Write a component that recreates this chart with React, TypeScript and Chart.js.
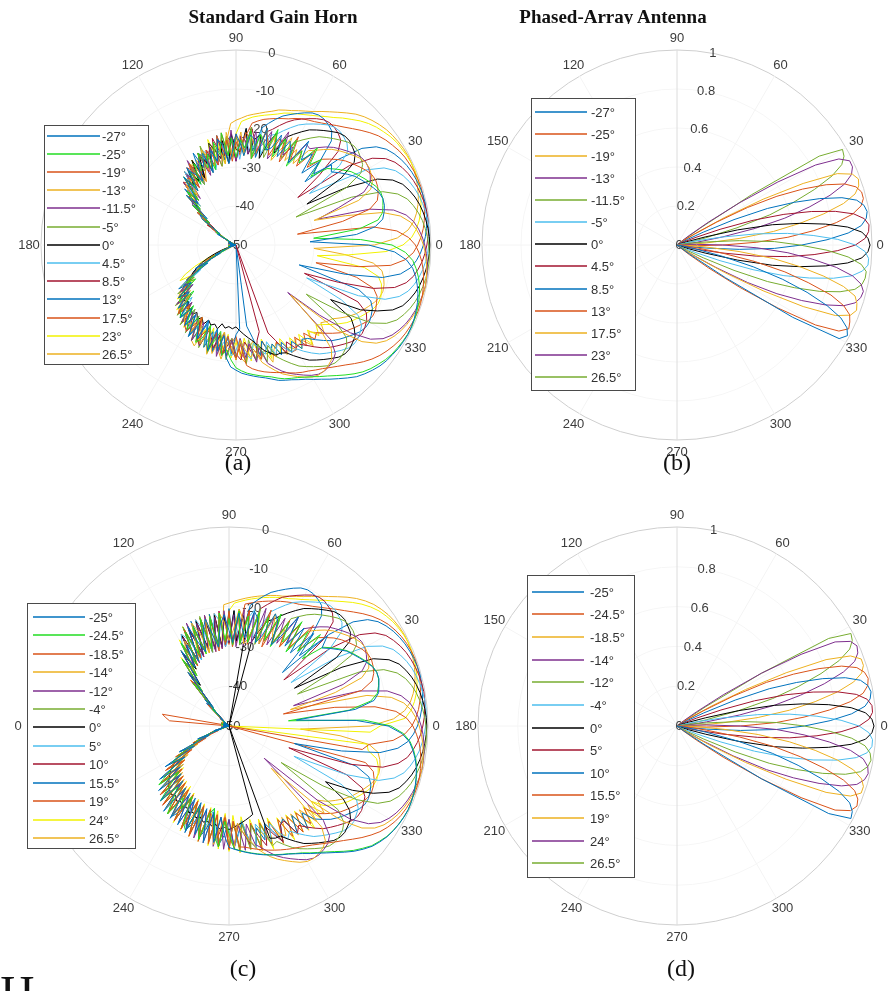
import React, { useEffect, useRef } from "react";
import { Chart, registerables } from "chart.js";
Chart.register(...registerables);

// ---------------------------------------------------------------------------
// Shared tick labels
// ---------------------------------------------------------------------------
const ANGLE_TICKS = [0, 30, 60, 90, 120, 150, 180, 210, 240, 270, 300, 330];
const DB_TICKS = [0, -10, -20, -30, -40, -50];
const LIN_TICKS = [1, 0.8, 0.6, 0.4, 0.2, 0];

// ---------------------------------------------------------------------------
// (a) Standard Gain Horn – dB, one value every 2.5° from 0° to 357.5°
// ---------------------------------------------------------------------------
const A_STEP = 2.5;
const A_NAMES = ["-27°", "-25°", "-19°", "-13°", "-11.5°", "-5°", "0°", "4.5°", "8.5°", "13°", "17.5°", "23°", "26.5°"];
const A_COLORS = ["#0072BD", "#22DD22", "#D95319", "#EDB120", "#7E2F8E", "#77AC30", "#000000", "#4DBEEE", "#A2142F", "#0072BD", "#D95319", "#F2F200", "#EDB120"];
const A_M27 = [-16,-31,-19,-14,-11.8,-11.1,-10.6,-10.5,-10.9,-11.8,-12.8,-13.8,-14.8,-16.2,-17.7,-19.2,-18,-23,-20,-25,-19.5,-22.5,-17.5,-25,
  -22,-20,-25,-19.5,-23.5,-24.5,-19,-27,-22.5,-21.5,-27,-24,-21.5,-26.5,-29,-24,-22.5,-28,-25,-30.5,-25,-28.5,-24,-31.5,
  -29,-27.5,-33,-28,-33,-35.5,-32,-40,-38,-39,-45,-45,-44.5,-48.5,-48,-49,-48.5,-49.5,-48,-49,-50,-48.5,-49.5,-49,
  -49.5,-48.5,-49,-50,-48.5,-49,-48,-49.5,-48,-47,-44,-45.5,-38,-41.5,-35.5,-31.5,-35,-30,-33,-28,-31,-26.5,-30,-25.5,
  -29,-23.5,-27,-24,-29.5,-24.5,-22,-28,-22.5,-26.5,-21,-18.7,-17.9,-17.1,-16.6,-16.1,-15.6,-15.1,-14.4,-13.6,-13.1,-12.6,-11.9,-11.2,
  -10.2,-9.2,-8,-6.8,-5.5,-4.2,-3.3,-2.5,-1.8,-1.3,-1,-0.65,-0.45,-0.3,-0.4,-0.55,-0.85,-1.2,-1.7,-2.4,-3.2,-4.3,-6.1,-9.3];
const A_M25 = [-10,-18,-30,-18,-13,-11.5,-11,-10.5,-10.5,-11,-12,-13,-14,-15,-16.5,-18,-19.5,-24,-19,-22,-17.5,-23.5,-20.5,-26,
  -19,-23,-20,-25.5,-18.5,-24.5,-23,-21,-27.5,-20.5,-25,-23,-27.5,-22.5,-27,-21,-26.5,-23,-30,-25.5,-29,-24.5,-29,-26.5,
  -32,-27.5,-32,-28,-35,-31.5,-37,-35,-41,-40,-45,-44,-48,-47.5,-49,-48,-49.5,-48.5,-50,-49,-48.5,-49.5,-49,-50,
  -48.5,-49.5,-49,-48,-49.5,-48.5,-49,-48,-48.5,-46,-47,-43,-41.5,-39,-37,-34,-36.5,-31,-29.5,-34,-28,-26.5,-31,-27,
  -25,-29,-27,-23,-24.5,-28.5,-22,-25,-27.5,-21.5,-23,-20.5,-18.5,-17.7,-17,-16.5,-16,-15.5,-15,-14.2,-13.5,-13,-12.5,-11.8,
  -11,-10,-9,-7.8,-6.5,-5.2,-4,-3.1,-2.4,-1.7,-1.2,-0.9,-0.6,-0.4,-0.3,-0.4,-0.6,-0.9,-1.3,-1.8,-2.5,-3.4,-4.5,-6.5];
const A_M19 = [-4,-5.7,-8.6,-14.5,-34,-22,-14.5,-12,-11.2,-10.7,-10.5,-10.8,-11.6,-12.6,-13.6,-14.6,-15.9,-17.4,-18.9,-23,-18.5,-24.5,-20.5,-24,
  -18,-26,-21,-20.5,-25.5,-22.5,-20,-25,-27.5,-22.5,-21,-26,-23.5,-28.5,-23,-26,-21.5,-29,-26,-24.5,-30,-24.5,-29,-30.5,
  -26,-32.5,-29,-29,-35,-32.5,-33,-39,-37,-42,-42,-46,-45.5,-48.5,-48,-49.5,-49,-48,-49.5,-50,-48.5,-49,-50,-48.5,
  -49,-50,-48.5,-49,-48,-49.5,-48.5,-49,-47.5,-48,-44,-42,-40,-38.5,-36,-35,-33.5,-30,-32,-29.5,-27,-30.5,-28,-25.5,
  -24.5,-27,-29.5,-23.5,-26,-28,-22.5,-27,-24,-21.5,-26.5,-23,-21,-24.5,-19,-18,-17.3,-16.7,-16.2,-15.7,-15.2,-14.5,-13.8,-13.2,
  -12.7,-12,-11.3,-10.4,-9.4,-8.3,-7,-5.7,-4.5,-3.5,-2.7,-2,-1.4,-1,-0.7,-0.45,-0.32,-0.35,-0.5,-0.8,-1.15,-1.6,-2.2,-3];
const A_M13 = [-1.95,-2.65,-3.6,-4.9,-7.2,-11.5,-21,-29,-16.5,-12.6,-11.4,-10.9,-10.5,-10.6,-11.2,-12.2,-13.2,-14.2,-15.3,-16.8,-18.3,-19.5,-24.5,-21,
  -25,-19,-23,-26.5,-20.5,-23.5,-19,-26,-23.5,-21.5,-27,-21,-25.5,-26.5,-21,-29,-24.5,-24,-29,-26.5,-24,-29.5,-32,-27.5,
  -26,-31.5,-29,-34,-30,-34.5,-32,-39,-39,-39,-44,-44,-47.5,-47,-49,-48.5,-49.5,-48,-49,-49.5,-48.5,-50,-48.5,-49.5,
  -49,-48,-49.5,-48.5,-50,-48.5,-49,-47.5,-49,-46.5,-45,-43,-40,-39,-36,-34.5,-36,-31,-29.5,-32.5,-28,-30,-27,-25.5,
  -27,-25,-29.5,-26,-23,-27.5,-24.5,-21.5,-25,-27.5,-22.5,-24,-20.5,-25.5,-23,-21,-22.5,-19.2,-17.7,-16.2,-14.8,-13.8,-12.8,-11.8,
  -10.9,-10.5,-10.6,-11.1,-11.8,-13.8,-19.5,-31,-16,-9.3,-6.1,-4.3,-3.2,-2.35,-1.7,-1.2,-0.85,-0.55,-0.38,-0.3,-0.42,-0.65,-0.98,-1.4];
const A_M11_5 = [-1.6,-2.2,-3,-4.05,-5.7,-8.6,-14.5,-28,-22,-14.5,-12,-11.2,-10.7,-10.5,-10.8,-11.6,-12.6,-13.6,-14.6,-15.9,-17.4,-18.9,-18.5,-25,
  -21,-24,-18,-23.5,-26.5,-19.5,-23,-25,-20.5,-26.5,-23,-22,-28.5,-20.5,-27,-26,-22.5,-29,-24,-26.5,-31,-25.5,-27,-31.5,
  -25,-30.5,-28,-35,-29,-35.5,-34,-35,-41,-40,-44,-44,-47.5,-48,-49.5,-48.5,-49,-50,-48.5,-49,-49.5,-48,-49,-50,
  -48.5,-49,-50,-49,-48.5,-49.5,-48,-49,-48.5,-47,-44.5,-44,-39.5,-39,-35,-34,-31.5,-35,-28.5,-33,-27.5,-31.5,-26,-29.5,
  -24.5,-29,-23,-28.5,-22.5,-28,-23,-26.5,-21,-27,-21.5,-25.5,-20.5,-26,-21,-24.5,-19.5,-23,-18.6,-17.1,-15.6,-14.4,-13.4,-12.4,
  -11.4,-10.7,-10.5,-10.8,-11.3,-12.3,-15.5,-32,-22,-13,-7.9,-5.3,-3.8,-2.85,-2.05,-1.5,-1.05,-0.7,-0.46,-0.32,-0.35,-0.5,-0.78,-1.15];
const A_M5 = [-0.6,-0.9,-1.3,-1.8,-2.5,-3.4,-4.5,-6.5,-10,-18,-33,-18,-13,-11.5,-11,-10.5,-10.5,-11,-12,-13,-14,-15,-16.5,-18,
  -19.5,-25,-20,-23.5,-19.5,-26.5,-22,-21,-26.5,-19.5,-26,-24,-22.5,-27.5,-22,-26,-29.5,-24,-25,-29.5,-23,-29.5,-27,-32.5,
  -27,-28.5,-33,-28,-34,-31.5,-37,-36,-40,-39,-44,-45,-46.5,-48.5,-48,-49,-50,-48.5,-49.5,-48,-49,-50,-49,-48.5,
  -49.5,-48.5,-49,-50,-48,-49,-49.5,-48,-47.5,-48.5,-44,-45.5,-39,-41,-34.5,-36.5,-30.5,-34.5,-28,-32,-26.5,-31,-25,-30.5,
  -24,-29.5,-23,-27.5,-22,-28,-21.5,-26,-22.5,-27.5,-20.5,-26,-21,-25,-19.5,-25.5,-20,-24,-19,-23,-19.5,-18,-16.5,-15,
  -14,-13,-12,-11,-10.5,-10.5,-11,-11.5,-13,-18,-28,-18,-10,-6.5,-4.5,-3.4,-2.5,-1.8,-1.3,-0.9,-0.6,-0.4,-0.3,-0.4];
const A_0 = [-0.3,-0.4,-0.6,-0.9,-1.3,-1.8,-2.5,-3.4,-4.5,-6.5,-10,-18,-29,-18,-13,-11.5,-11,-10.5,-10.5,-11,-12,-13,-14,-15,
  -16.5,-18,-19.5,-24.5,-19.5,-22.5,-27,-21,-22.5,-26.5,-20,-26,-25.5,-21.5,-29,-23,-27.5,-25,-23,-29.5,-27,-25.5,-31,-25.5,
  -31,-27.5,-31,-29,-35,-31.5,-36,-36,-41,-40,-44,-44,-47,-48,-49,-48.5,-49.5,-48,-49,-50,-48.5,-49,-49.5,-48.5,
  -49,-48.5,-50,-49,-48,-49.5,-48.5,-47.5,-46,-44,-42,-40,-38.5,-37,-36,-35,-33.5,-32,-31.5,-30.5,-31,-29.5,-30,-29,
  -30,-28.5,-29.5,-28,-29.5,-28.5,-29,-28,-29.5,-28.5,-29,-28.5,-29,-28,-27,-26,-25,-23.5,-22,-21,-20,-20,-19.5,-18,
  -16.5,-15,-14,-13,-12,-11,-10.5,-10.5,-11,-11.5,-13,-15,-22,-14,-10,-6.5,-4.5,-3.4,-2.5,-1.8,-1.3,-0.9,-0.6,-0.4];
const A_4_5 = [-0.55,-0.38,-0.3,-0.42,-0.65,-0.98,-1.4,-1.95,-2.65,-3.6,-4.9,-7.2,-11.5,-21,-27,-16.5,-12.6,-11.4,-10.9,-10.5,-10.6,-11.2,-12.2,-13.2,
  -14.2,-15.3,-16.8,-18.3,-19.8,-20.5,-26,-20,-24.5,-25.5,-20,-28,-23.5,-22.5,-28,-25,-22.5,-28,-30,-25.5,-24,-29.5,-27,-32.5,
  -27,-30.5,-27,-33,-31,-36.5,-32,-39,-37,-42,-42,-46,-46,-48,-48.5,-49.5,-48,-49,-50,-48.5,-49.5,-49,-48,-49.5,
  -50,-49,-48.5,-49.5,-48,-49,-50,-48.5,-48,-47.5,-45,-44,-41,-38,-39,-34,-32,-35,-30,-29,-32.5,-28,-26.5,-30,
  -26,-28.5,-24,-25,-29,-23.5,-26,-27.5,-22,-24.5,-26.5,-21.5,-23,-26,-22,-20.5,-24.5,-23,-21,-24,-20,-22.5,-21,-19,
  -19.3,-17.7,-16.2,-14.8,-13.8,-12.8,-11.8,-10.9,-10.5,-10.6,-11.1,-11.8,-13.8,-19.5,-30,-16,-9.3,-6.1,-4.3,-3.2,-2.35,-1.7,-1.2,-0.85];
const A_8_5 = [-1.05,-0.7,-0.46,-0.32,-0.35,-0.5,-0.78,-1.15,-1.6,-2.2,-3,-4.05,-5.7,-8.6,-14.5,-30,-22,-14.5,-12,-11.2,-10.7,-10.5,-10.8,-11.6,
  -12.6,-13.6,-14.6,-15.9,-17.4,-18.9,-20,-26,-22.5,-19.5,-26,-22,-28.5,-23.5,-22,-27,-25.5,-22,-29,-24.5,-28,-24.5,-32,-27.5,
  -27,-32.5,-27,-32,-30,-35.5,-33,-38,-38,-43,-41,-46,-45.5,-48.5,-48,-49,-49.5,-48,-48.5,-49.5,-50,-48.5,-49,-49.5,
  -48.5,-49.5,-49,-48,-49.5,-50,-48.5,-49,-47,-48,-45,-43,-40.5,-39.5,-35.5,-35,-31.5,-33.5,-29,-32,-27,-30,-25.5,-29.5,
  -27,-25,-28.5,-24,-22.5,-27,-25.5,-23,-26.5,-21.5,-24,-26,-22,-20.5,-25,-23,-20,-25,-27,-50,-26,-23.5,-19.5,-22,
  -19.5,-19.8,-18.6,-17.1,-15.6,-14.4,-13.4,-12.4,-11.4,-10.7,-10.5,-10.8,-11.3,-12.3,-15.5,-31,-22,-13,-7.9,-5.3,-3.8,-2.85,-2.05,-1.5];
const A_13 = [-1.95,-1.4,-0.98,-0.65,-0.42,-0.3,-0.38,-0.55,-0.85,-1.2,-1.7,-2.35,-3.2,-4.3,-6.1,-9.3,-16,-26,-19.5,-13.8,-11.8,-11.1,-10.6,-10.5,
  -10.9,-11.8,-12.8,-13.8,-14.8,-16.2,-17.7,-19.2,-25.5,-20.5,-25,-23,-28.5,-21.5,-24,-28,-21.5,-28,-24,-30.5,-26,-24.5,-30,-26.5,
  -32,-26.5,-31,-30,-34,-30.5,-37,-35,-41,-39,-45,-44,-47.5,-47,-49,-48,-49,-49.5,-48.5,-50,-49,-48,-49.5,-49,
  -48,-49.5,-48.5,-49,-50,-48.5,-49,-48,-48.5,-46.5,-46,-42,-42.5,-37,-38.5,-33,-35,-30,-33,-28.5,-31,-26.5,-30.5,-25.5,
  -29.5,-24,-28,-23.5,-28.5,-22.5,-27,-22,-26.5,-21.5,-26,-22,-27,-28.5,-50,-29,-26,-21,-24.5,-20.5,-23,-19.5,-22.5,-19,
  -21.5,-18.5,-20.5,-19.8,-18.3,-16.8,-15.3,-14.2,-13.2,-12.2,-11.2,-10.6,-10.5,-10.9,-11.4,-12.6,-16.5,-33,-21,-11.5,-7.2,-4.9,-3.6,-2.65];
const A_17_5 = [-3.4,-2.5,-1.8,-1.3,-0.9,-0.6,-0.4,-0.3,-0.4,-0.6,-0.9,-1.2,-1.7,-2.4,-3.1,-4,-5.2,-6.5,-7.8,-9,-10,-11,-11.8,-12.5,
  -13,-13.5,-14.2,-15,-15.5,-16,-16.5,-17,-17.7,-18.5,-22,-27,-21.5,-25.5,-27,-21,-29.5,-25,-24,-29.5,-27,-24.5,-30,-32.5,
  -28,-26.5,-32,-30,-29,-35.5,-34,-39,-37,-43,-42,-44,-47,-48.5,-48,-49.5,-48.5,-49,-50,-48,-49,-49.5,-48.5,-50,
  -49,-48,-49.5,-48.5,-49,-50,-48,-49,-48.5,-47,-44.5,-45,-39,-40,-34.5,-36,-31,-34.5,-29.5,-32.5,-27.5,-31,-26,-30,
  -27,-25.5,-29,-24,-23,-27.5,-25,-22,-27,-23.5,-21.5,-25,-26.5,-22,-20.5,-24,-22.5,-20,-24.5,-21,-19.5,-23,-21,-19,
  -19,-22,-18.5,-21.5,-18.5,-19.5,-18,-16.5,-15,-14,-13,-12,-11,-10.5,-10.5,-11,-11.5,-13,-18,-29,-18,-10,-6.5,-4.5];
const A_23 = [-7.2,-4.9,-3.6,-2.65,-1.95,-1.4,-0.98,-0.65,-0.42,-0.3,-0.38,-0.55,-0.85,-1.1,-1.6,-2.3,-3,-3.9,-5,-6.3,-7.5,-8.8,-9.8,-10.8,
  -11.6,-12.3,-12.9,-13.4,-14,-14.8,-15.4,-15.9,-16.4,-16.9,-17.6,-18.3,-21.5,-27.5,-24,-29,-23.5,-27,-22,-29.5,-27,-25.5,-31,-25.5,
  -30,-31.5,-27,-34,-31,-31.5,-37,-35,-40,-40,-44,-44,-46.5,-48,-49.5,-48,-49,-50,-48.5,-49.5,-49,-48,-50,-49,
  -48.5,-49.5,-49,-48,-49.5,-48.5,-49,-48,-47,-45,-42,-38,-35,-33,-37,-32,-34.5,-29.5,-32,-27.5,-31,-26.5,-29.5,-25,
  -28.5,-24,-29,-23,-27,-22.5,-28,-22,-26,-22.5,-27,-21,-25,-21.5,-26,-20,-24.5,-21,-25,-19.5,-23,-20,-23.5,-19,
  -22.5,-18.5,-22,-18,-21.5,-18.5,-21,-19.8,-18.3,-16.8,-15.3,-14.2,-13.2,-12.2,-11.2,-10.6,-10.5,-10.9,-11.4,-12.6,-16.5,-29,-21,-11.5];
const A_26_5 = [-14.5,-8.6,-5.7,-4.05,-3,-2.2,-1.6,-1.15,-0.78,-0.5,-0.35,-0.32,-0.45,-0.7,-1,-1.4,-2,-2.7,-3.5,-4.5,-5.8,-7.1,-8.3,-9.4,
  -10.5,-11.3,-12,-12.7,-13.2,-13.7,-14.5,-15.1,-15.7,-16.2,-16.7,-17.4,-18,-18.8,-23,-28,-22.5,-28,-25,-30.5,-24,-28.5,-26,-31.5,
  -26,-30.5,-28,-33,-29,-36.5,-33,-38,-37,-42,-41,-45,-46,-48,-48.5,-49.5,-48,-49,-49.5,-48.5,-50,-49,-48.5,-49.5,
  -49,-48.5,-50,-49,-48.5,-49.5,-48,-49,-47.5,-46,-44,-41,-40.5,-37,-35,-36.5,-31.5,-30,-33.5,-28.5,-27,-31,-28,-25.5,
  -25,-27.5,-23,-22,-26.5,-24.5,-21,-27,-23,-20.5,-25,-22.5,-26,-21,-19.5,-23.5,-25,-20,-22,-18.5,-21.5,-23,-19,-20.5,
  -19,-21.5,-20,-17.5,-21,-19.5,-18,-20.5,-19.5,-18.9,-17.4,-15.9,-14.6,-13.6,-12.6,-11.6,-10.8,-10.5,-10.7,-11.2,-12,-14.5,-22,-30];
const A_SERIES = [A_M27, A_M25, A_M19, A_M13, A_M11_5, A_M5, A_0, A_4_5, A_8_5, A_13, A_17_5, A_23, A_26_5];

// ---------------------------------------------------------------------------
// (b) Phased-Array Antenna – linear, main lobes sampled every 2°
// ---------------------------------------------------------------------------
const B_STEP = 2;
const B_NAMES = ["-27°", "-25°", "-19°", "-13°", "-11.5°", "-5°", "0°", "4.5°", "8.5°", "13°", "17.5°", "23°", "26.5°"];
const B_COLORS = ["#0072BD", "#D95319", "#EDB120", "#7E2F8E", "#77AC30", "#4DBEEE", "#000000", "#A2142F", "#0072BD", "#D95319", "#EDB120", "#7E2F8E", "#77AC30"];
const B_START = [-38, -40, -36, -36, -32, -26, -22, -16, -12, -6, -2, 4, 8];
const B_LOBES = [
  [0.01, 0.08, 0.3, 0.7, 0.96, 0.99, 0.97, 0.92, 0.83, 0.71, 0.57, 0.41, 0.24, 0.1, 0.04, 0.015],
  [0.02, 0.08, 0.2, 0.39, 0.61, 0.82, 0.94, 0.98, 0.97, 0.955, 0.91, 0.83, 0.7, 0.57, 0.41, 0.23, 0.1, 0.04, 0.015],
  [0.01, 0.04, 0.12, 0.28, 0.5, 0.72, 0.89, 0.96, 0.98, 0.97, 0.95, 0.88, 0.77, 0.64, 0.5, 0.32, 0.15, 0.06, 0.02, 0.01],
  [0.015, 0.04, 0.1, 0.23, 0.41, 0.57, 0.7, 0.82, 0.91, 0.96, 0.98, 0.985, 0.965, 0.915, 0.825, 0.7, 0.57, 0.41, 0.235, 0.1, 0.04, 0.015],
  [0.01, 0.02, 0.06, 0.15, 0.32, 0.5, 0.64, 0.77, 0.87, 0.94, 0.97, 0.98, 0.98, 0.95, 0.88, 0.77, 0.63, 0.5, 0.32, 0.15, 0.06, 0.02, 0.01],
  [0.015, 0.04, 0.105, 0.235, 0.41, 0.57, 0.7, 0.82, 0.91, 0.96, 0.985, 0.985, 0.965, 0.915, 0.825, 0.7, 0.57, 0.41, 0.235, 0.105, 0.04, 0.015],
  [0.01, 0.02, 0.06, 0.15, 0.32, 0.5, 0.64, 0.77, 0.88, 0.95, 0.98, 0.99, 0.98, 0.95, 0.88, 0.77, 0.64, 0.5, 0.32, 0.15, 0.06, 0.02, 0.01],
  [0.015, 0.04, 0.105, 0.235, 0.41, 0.57, 0.705, 0.825, 0.915, 0.965, 0.985, 0.99, 0.97, 0.92, 0.83, 0.71, 0.57, 0.41, 0.235, 0.105, 0.04, 0.015],
  [0.01, 0.02, 0.06, 0.15, 0.32, 0.5, 0.64, 0.77, 0.88, 0.95, 0.98, 0.99, 0.98, 0.95, 0.88, 0.77, 0.64, 0.5, 0.32, 0.15, 0.06, 0.02, 0.01],
  [0.015, 0.04, 0.105, 0.235, 0.41, 0.57, 0.705, 0.825, 0.915, 0.965, 0.985, 0.985, 0.965, 0.915, 0.825, 0.705, 0.57, 0.41, 0.235, 0.105, 0.04, 0.015],
  [0.01, 0.02, 0.06, 0.15, 0.32, 0.5, 0.64, 0.77, 0.88, 0.95, 0.98, 0.99, 0.97, 0.9, 0.72, 0.5, 0.28, 0.12, 0.04, 0.01],
  [0.015, 0.04, 0.105, 0.235, 0.41, 0.57, 0.705, 0.825, 0.915, 0.965, 0.985, 0.985, 0.94, 0.82, 0.61, 0.39, 0.2, 0.08, 0.02],
  [0.01, 0.02, 0.06, 0.15, 0.32, 0.5, 0.63, 0.76, 0.87, 0.94, 0.97, 0.98, 0.86, 0.46, 0.15, 0.03],
];

// ---------------------------------------------------------------------------
// (c) Standard Gain Horn, second set – dB, every 2.5° from 0° to 357.5°
// ---------------------------------------------------------------------------
const C_STEP = 2.5;
const C_NAMES = ["-25°", "-24.5°", "-18.5°", "-14°", "-12°", "-4°", "0°", "5°", "10°", "15.5°", "19°", "24°", "26.5°"];
const C_COLORS = ["#0072BD", "#22DD22", "#D95319", "#EDB120", "#7E2F8E", "#77AC30", "#000000", "#4DBEEE", "#A2142F", "#0072BD", "#D95319", "#F2F200", "#EDB120"];
const C_M25 = [-10,-18,-33,-18,-13,-11.5,-11,-10.5,-10.5,-11,-12,-13,-14,-15,-16.5,-18,-19.5,-16.5,-25,-18.5,-26,-19,-25.5,-17.5,
  -24,-27,-21,-19.5,-26,-28,-22,-20.5,-27.5,-25,-21.5,-29,-26,-22,-24.5,-30,-27,-22.5,-25,-30.5,-28,-23,-32,-27,
  -33,-27.5,-37,-33,-44,-41,-48,-47,-49.5,-48.5,-50,-49,-48.5,-49.5,-49,-50,-48.5,-49,-49.5,-48.5,-50,-49,-48.5,-49.5,
  -49,-50,-48.5,-49.5,-49,-48,-49.5,-46,-48,-41.5,-44.5,-36,-40,-31,-36.5,-28,-34,-26,-33,-24.5,-32,-23,-31,-22.5,
  -30.5,-22,-30,-21,-29.5,-21.5,-28.5,-20,-28,-20.5,-27,-22.5,-19.5,-19,-18.5,-18,-17.5,-17,-16.5,-16,-15.5,-15,-14.5,-13.8,
  -13,-12,-11,-9.8,-8.5,-7,-5.5,-4.2,-3,-2.2,-1.5,-1.05,-0.7,-0.45,-0.3,-0.4,-0.6,-0.9,-1.3,-1.8,-2.5,-3.4,-4.5,-6.5];
const C_M24_5 = [-9.3,-16,-35,-19.5,-13.8,-11.8,-11.1,-10.6,-10.5,-10.9,-11.8,-12.8,-13.8,-14.8,-16.2,-17.7,-19.2,-25,-17.5,-24.5,-19,-26.5,-18,-25,
  -20,-27.5,-19,-26.5,-21,-28,-20.5,-28.5,-22,-29,-21,-29.5,-23,-28.5,-21.5,-30,-22.5,-30,-22,-31,-23.5,-30.5,-24,-32.5,
  -26,-35,-29.5,-39,-36,-45,-44,-49,-48,-50,-48.5,-49.5,-49,-48.5,-50,-49,-48.5,-49.5,-48,-49,-50,-48.5,-49.5,-49,
  -48.5,-49.5,-49,-50,-48.5,-49,-48,-49.5,-46,-43,-41,-40,-36,-33,-35.5,-31,-27,-33,-29,-24.5,-30,-27,-23,-28.5,
  -26,-30,-23,-21.5,-28,-25,-20.5,-27.5,-29,-22,-19.5,-26,-23,-19.1,-18.6,-18.1,-17.6,-17.1,-16.6,-16.1,-15.6,-15.1,-14.6,-13.9,
  -13.2,-12.2,-11.2,-10.1,-8.8,-7.3,-5.8,-4.5,-3.2,-2.4,-1.6,-1.1,-0.75,-0.48,-0.3,-0.38,-0.55,-0.85,-1.2,-1.7,-2.35,-3.2,-4.3,-6.1];
const C_M18_5 = [-3.8,-5.3,-7.9,-13,-23,-36,-15.5,-12.3,-11.3,-10.8,-10.5,-10.7,-11.4,-12.4,-13.4,-14.4,-15.6,-17.1,-18.6,-24,-17,-25.5,-19,-26.5,
  -19.5,-27,-20.5,-28.5,-19,-27.5,-21.5,-29,-20.5,-28,-22.5,-30,-21,-29.5,-22,-31,-23,-29.5,-22,-30.5,-24,-31.5,-23.5,-33,
  -27,-34.5,-30,-38,-35,-43,-42.5,-48,-47,-49.5,-49,-48.5,-50,-49,-48.5,-49.5,-49,-48,-49.5,-50,-48.5,-49,-49.5,-48.5,
  -49.5,-48.5,-50,-49,-48,-49.5,-49,-48.5,-46,-47,-40.5,-43.5,-35,-39,-31,-36,-28,-34,-26,-33,-24.5,-32,-23.5,-31,
  -22.5,-30.5,-21.5,-29.5,-21,-29,-20,-28.5,-20.5,-27.5,-19.5,-27,-19,-26,-19.5,-19.3,-18.8,-18.3,-17.8,-17.3,-16.8,-16.3,-15.8,-15.3,
  -14.8,-14.2,-13.5,-12.6,-11.6,-10.5,-9.3,-7.9,-6.4,-5,-3.7,-2.7,-1.9,-1.3,-0.9,-0.6,-0.36,-0.32,-0.46,-0.7,-1.05,-1.5,-2.05,-2.85];
const C_M14 = [-2.2,-3,-4.05,-5.7,-8.6,-14.5,-34,-22,-14.5,-12,-11.2,-10.7,-10.5,-10.8,-11.6,-12.6,-13.6,-14.6,-15.9,-17.4,-18.9,-25,-18.5,-26,
  -22,-26.5,-24,-19.5,-28,-25,-21,-27.5,-29,-23,-20.5,-26,-28.5,-24,-21.5,-30,-27,-23,-31,-25.5,-22.5,-29,-32,-26,
  -28,-33.5,-31.5,-37.5,-36.5,-44,-43,-48.5,-47.5,-49,-50,-48.5,-49,-49.5,-48,-50,-49,-48.5,-49.5,-49,-48,-50,-48.5,-49,
  -50,-49,-48.5,-49.5,-49,-48,-50,-47,-47.5,-42,-45,-37,-41,-32.5,-37.5,-29,-35,-27,-33.5,-25.5,-32.5,-24,-31.5,-23,
  -27,-30.5,-22,-25,-29,-24,-21,-28.5,-26,-20,-24,-27.5,-22,-19.5,-25.5,-23,-21,-18.6,-17.1,-15.6,-14.4,-13.4,-12.4,-11.4,
  -10.7,-10.5,-10.8,-11.3,-12.3,-15.5,-35,-22,-13,-7.9,-5.3,-3.8,-2.85,-2.05,-1.5,-1.05,-0.7,-0.46,-0.32,-0.35,-0.5,-0.78,-1.15,-1.6];
const C_M12 = [-1.7,-2.35,-3.2,-4.3,-6.1,-9.3,-16,-33,-19.5,-13.8,-11.8,-11.1,-10.6,-10.5,-10.9,-11.8,-12.8,-13.8,-14.8,-16.2,-17.7,-19.2,-24.5,-17.5,
  -26,-19.5,-27.5,-20.5,-28,-19,-28.5,-21,-29.5,-20.5,-30,-22,-29,-21,-30.5,-22.5,-31,-21.5,-30,-23,-31.5,-22,-32.5,-25,
  -32,-28,-36,-33.5,-42,-41.5,-47,-46.5,-49,-48.5,-49.5,-50,-48.5,-49,-50,-48.5,-49.5,-49,-48,-49.5,-50,-49,-48.5,-49.5,
  -48.5,-49.5,-50,-48.5,-49,-49.5,-48,-49,-46.5,-45.5,-42,-39.5,-37,-34,-34.5,-30,-33,-27.5,-32,-25.5,-31,-24.5,-30,-23.5,
  -29.5,-22.5,-29,-21.5,-28.5,-20.5,-28,-20,-27.5,-19.5,-27,-19,-26.5,-19,-25.5,-18.5,-25,-19.5,-18.3,-16.8,-15.3,-14.2,-13.2,-12.2,
  -11.2,-10.6,-10.5,-10.9,-11.4,-12.6,-16.5,-38,-21,-11.5,-7.2,-4.9,-3.6,-2.65,-1.95,-1.4,-0.98,-0.65,-0.42,-0.3,-0.38,-0.55,-0.85,-1.2];
const C_M4 = [-0.5,-0.78,-1.15,-1.6,-2.2,-3,-4.05,-5.7,-8.6,-14.5,-31,-22,-14.5,-12,-11.2,-10.7,-10.5,-10.8,-11.6,-12.6,-13.6,-14.6,-15.9,-17.4,
  -18.9,-26.5,-19,-27,-20.5,-28.5,-19.5,-28,-21.5,-29.5,-20.5,-30,-21.5,-29,-22.5,-30.5,-22,-31,-21.5,-30.5,-23.5,-31.5,-22.5,-32,
  -27.5,-33,-31,-38,-37,-43.5,-44,-48,-48.5,-49,-49.5,-48.5,-50,-49,-48,-49.5,-49,-50,-48.5,-49,-49.5,-48,-50,-49,
  -49,-48.5,-49.5,-50,-48,-49,-49.5,-48.5,-47,-46,-41,-42,-35.5,-37.5,-31.5,-34.5,-29,-32.5,-26.5,-31.5,-25,-30.5,-24,-29.5,
  -23,-29,-22,-28.5,-21.5,-28,-20.5,-27.5,-21,-27,-19.5,-26,-20,-25.5,-19,-25,-18.5,-24.5,-19,-24,-18,-18.6,-17.1,-15.6,
  -14.4,-13.4,-12.4,-11.4,-10.7,-10.5,-10.8,-11.3,-12.3,-15.5,-34,-22,-13,-7.9,-5.3,-3.8,-2.85,-2.05,-1.5,-1.05,-0.7,-0.46,-0.32,-0.35];
const C_0 = [-0.3,-0.4,-0.6,-0.9,-1.3,-1.8,-2.5,-3.4,-4.5,-6.5,-10,-18,-31,-18,-13,-11.5,-11,-10.5,-10.5,-11,-12,-13,-14,-15,
  -16.5,-18,-19.5,-21,-22,-25,-28,-50,-26,-22,-28.5,-21,-29,-22.5,-30,-22,-30.5,-23,-29.5,-22.5,-31,-23.5,-32,-24.5,
  -33.5,-28.5,-37.5,-34,-43,-42,-48,-47,-49,-49.5,-48.5,-50,-49,-48.5,-49.5,-50,-48.5,-49,-49.5,-48,-49,-50,-48.5,-49.5,
  -49,-48.5,-50,-49,-48.5,-49.5,-48,-47.5,-46,-44,-41.5,-39,-36.5,-34.5,-33,-31.5,-30.5,-29.5,-28.5,-28,-27.5,-28,-27,-27.5,
  -26.5,-27,-26,-26.5,-25.5,-26,-25,-25.5,-24.5,-25,-24,-24.5,-24,-24.5,-25,-25.5,-26,-26.5,-27,-50,-20,-19.5,-19.5,-18,
  -16.5,-15,-14,-13,-12,-11,-10.5,-10.5,-11,-11.5,-13,-16,-22,-15,-10,-6.5,-4.5,-3.4,-2.5,-1.8,-1.3,-0.9,-0.6,-0.4];
const C_5 = [-0.6,-0.4,-0.3,-0.4,-0.6,-0.9,-1.3,-1.8,-2.5,-3.4,-4.5,-6.5,-10,-18,-31,-18,-13,-11.5,-11,-10.5,-10.5,-11,-12,-13,
  -14,-15,-16.5,-18,-19.5,-24,-27,-20,-22.5,-29,-26,-21,-28,-30,-23.5,-21.5,-27,-31,-25,-22,-29.5,-32,-26,-24,
  -26.5,-34,-30.5,-38.5,-36,-44.5,-43.5,-48.5,-47.5,-49.5,-48.5,-49,-50,-48.5,-49.5,-49,-48,-50,-49,-48.5,-49.5,-49,-48,-50,
  -49.5,-49,-48,-49.5,-50,-48.5,-49,-46.5,-48,-43,-44.5,-37.5,-40.5,-33,-37,-29.5,-35,-27.5,-33,-26,-31.5,-24.5,-31,-23.5,
  -27,-30,-24,-22,-28.5,-26,-21,-25,-29,-23,-20,-26.5,-24,-19.5,-22.5,-26,-21,-18.5,-24.5,-22,-19,-23.5,-20.5,-18,
  -19.5,-18,-16.5,-15,-14,-13,-12,-11,-10.5,-10.5,-11,-11.5,-13,-18,-32,-18,-10,-6.5,-4.5,-3.4,-2.5,-1.8,-1.3,-0.9];
const C_10 = [-1.3,-0.9,-0.6,-0.4,-0.3,-0.4,-0.6,-0.9,-1.3,-1.8,-2.5,-3.4,-4.5,-6.5,-10,-18,-32,-18,-13,-11.5,-11,-10.5,-10.5,-11,
  -12,-13,-14,-15,-16.5,-18,-19.5,-28,-20.5,-29,-21,-28.5,-22,-30,-21,-29.5,-22.5,-31,-22,-30.5,-23.5,-31,-23,-33,
  -27,-34.5,-30.5,-39,-36.5,-44,-43,-48,-48.5,-49,-50,-48.5,-49.5,-49,-48,-49.5,-50,-48.5,-49,-49.5,-48.5,-49,-50,-48.5,
  -49,-49.5,-48.5,-50,-49,-48,-49.5,-47,-46.5,-44,-42.5,-38.5,-38,-33.5,-35,-30,-33.5,-28,-32,-26.5,-31,-25,-30.5,-24,
  -26.5,-29.5,-25,-22,-27.5,-24,-21,-28,-25.5,-20.5,-23,-27,-22,-19.5,-25,-23,-20,-24.5,-21.5,-18.5,-23,-20.5,-18,-22,
  -22.5,-18,-19.5,-18,-16.5,-15,-14,-13,-12,-11,-10.5,-10.5,-11,-11.5,-13,-18,-34,-18,-10,-6.5,-4.5,-3.4,-2.5,-1.8];
const C_15_5 = [-2.65,-1.95,-1.4,-0.98,-0.65,-0.42,-0.3,-0.38,-0.55,-0.85,-1.2,-1.7,-2.35,-3.2,-4.3,-6.1,-9.3,-16,-31,-19.5,-13.8,-11.8,-11.1,-10.6,
  -10.5,-10.9,-11.8,-12.8,-13.8,-14.8,-16.2,-17.7,-19.2,-28.5,-21,-29.5,-20.5,-30,-22,-29,-21.5,-31,-23,-30,-22,-32,-23.5,-31.5,
  -26,-33.5,-30,-37,-35.5,-43,-42,-47.5,-47,-49,-48.5,-50,-49,-48.5,-49.5,-49,-48,-50,-49.5,-48.5,-49,-48,-49.5,-50,
  -48.5,-49,-49.5,-48,-50,-49,-48.5,-46,-47.5,-41.5,-44,-36,-40,-32,-36,-28.5,-34.5,-26.5,-33,-25,-32,-24,-31,-23,
  -25,-29.5,-27,-22,-24,-28.5,-21,-23.5,-27,-25,-20,-22.5,-26.5,-19.5,-23,-25.5,-21,-18.5,-23.5,-20,-24,-21.5,-18,-22,
  -23,-18,-22.5,-17.5,-21.5,-18.3,-16.8,-15.3,-14.2,-13.2,-12.2,-11.2,-10.6,-10.5,-10.9,-11.4,-12.6,-16.5,-33,-21,-11.5,-7.2,-4.9,-3.6];
const C_19 = [-4.05,-3,-2.2,-1.6,-1.15,-0.78,-0.5,-0.35,-0.32,-0.5,-0.8,-1.2,-1.8,-2.5,-3.5,-4.7,-6.1,-7.6,-9,-10.2,-11.4,-12.4,-13.3,-14,
  -14.7,-15.1,-15.6,-16.1,-16.6,-17.1,-17.6,-18.1,-18.6,-19.1,-29,-21,-29.5,-22,-30.5,-21.5,-31,-23,-30,-22,-31.5,-23.5,-32,-24,
  -33,-28,-37,-34,-43.5,-42,-48.5,-47,-49,-48.5,-50,-49,-48.5,-49.5,-49,-48,-49.5,-49,-50,-48.5,-33,-34,-35,-50,
  -49,-48.5,-49.5,-50,-48.5,-49,-48,-49.5,-45,-47,-40,-43,-34.5,-38.5,-30.5,-35.5,-27.5,-34,-25.5,-32.5,-24,-31.5,-23,-31,
  -22.5,-30,-21.5,-29.5,-20.5,-28.5,-21,-28,-20,-27.5,-19.5,-27,-19,-26,-18.5,-25.5,-19,-25,-18,-24.5,-18.5,-24,-17.5,-23.5,
  -18,-23,-17.5,-22.5,-18,-22,-18.9,-17.4,-15.9,-14.6,-13.6,-12.6,-11.6,-10.8,-10.5,-10.7,-11.2,-12,-14.5,-50,-16,-14.5,-8.6,-5.7];
const C_24 = [-12,-5.7,-4.05,-3,-2.2,-1.6,-1.15,-0.78,-0.5,-0.35,-0.32,-0.5,-0.8,-1.2,-1.8,-2.5,-3.5,-4.7,-6.1,-7.6,-9,-10.2,-11.4,-12.4,
  -13.3,-14,-14.7,-15.1,-15.6,-16.1,-16.6,-17.1,-17.6,-18.1,-18.6,-19.1,-21,-29,-22.5,-30,-21.5,-30.5,-22,-31,-23,-31.5,-22.5,-32.5,
  -25,-35,-29,-38.5,-35,-45,-42.5,-48.5,-47.5,-49.5,-48,-49,-50,-48.5,-49,-49.5,-48,-49,-50,-48.5,-49.5,-49,-48,-49.5,
  -50,-48.5,-49,-49.5,-48,-50,-48.5,-47.5,-46,-44.5,-40,-41.5,-35,-38,-31,-36,-28,-34.5,-26,-33,-24.5,-32.5,-23,-32,
  -22,-31,-21,-30,-20.5,-29.5,-20,-29,-19.5,-28.5,-19,-28,-18.5,-27.5,-18,-27,-18.5,-26,-17.5,-25.5,-17,-25,-17.5,-24,
  -17,-23.5,-17.5,-23,-16.5,-22.5,-17,-22,-18.9,-17.4,-15.9,-14.6,-13.6,-12.6,-11.6,-10.8,-10.5,-10.7,-11.2,-12,-14.5,-15,-50,-14.5];
const C_26_5 = [-14.5,-8.6,-5.7,-4.05,-3,-2.2,-1.6,-1.15,-0.78,-0.5,-0.35,-0.32,-0.5,-0.8,-1.2,-1.8,-2.5,-3.5,-4.7,-6.1,-7.6,-9,-10.2,-11.4,
  -12.4,-13.3,-14,-14.7,-15.1,-15.6,-16.1,-16.6,-17.1,-17.6,-18.1,-18.6,-19.1,-19.5,-29.5,-22,-30,-21.5,-31,-23,-30.5,-22.5,-32,-24.5,
  -33.5,-27.5,-36,-33,-42,-41,-47,-46,-49,-48.5,-49.5,-50,-48.5,-49,-49.5,-48,-50,-49,-48.5,-49.5,-49,-48,-50,-49,
  -48.5,-49.5,-49,-48,-49.5,-50,-49,-48,-47,-44,-43,-38.5,-38,-33.5,-34.5,-30,-32.5,-28,-31.5,-26.5,-30.5,-25.5,-30,-24.5,
  -26,-29,-24,-22.5,-28,-25.5,-21.5,-24,-27.5,-22,-20.5,-26,-23.5,-20,-24.5,-26,-21,-19,-23.5,-21.5,-18.5,-24,-20,-19,
  -23.5,-17.5,-23,-17,-22.5,-17.5,-22,-17.5,-21,-18.9,-17.4,-15.9,-14.6,-13.6,-12.6,-11.6,-10.8,-10.5,-10.7,-11.2,-12,-14.5,-22,-32];
const C_SERIES = [C_M25, C_M24_5, C_M18_5, C_M14, C_M12, C_M4, C_0, C_5, C_10, C_15_5, C_19, C_24, C_26_5];

// ---------------------------------------------------------------------------
// (d) Phased-Array Antenna, second set – linear, every 2°
// ---------------------------------------------------------------------------
const D_STEP = 2;
const D_NAMES = ["-25°", "-24.5°", "-18.5°", "-14°", "-12°", "-4°", "0°", "5°", "10°", "15.5°", "19°", "24°", "26.5°"];
const D_COLORS = ["#0072BD", "#D95319", "#EDB120", "#7E2F8E", "#77AC30", "#4DBEEE", "#000000", "#A2142F", "#0072BD", "#D95319", "#EDB120", "#7E2F8E", "#77AC30"];
const D_START = [-36, -40, -34, -36, -32, -26, -22, -16, -12, -8, -2, 2, 6];
const D_LOBES = [
  [0.04, 0.17, 0.5, 0.88, 0.99, 0.98, 0.95, 0.88, 0.77, 0.64, 0.5, 0.32, 0.15, 0.06, 0.02, 0.01],
  [0.01, 0.04, 0.12, 0.28, 0.5, 0.72, 0.9, 0.97, 0.99, 0.98, 0.95, 0.88, 0.77, 0.64, 0.5, 0.32, 0.15, 0.06, 0.02, 0.01],
  [0.02, 0.08, 0.2, 0.39, 0.61, 0.82, 0.94, 0.985, 0.985, 0.965, 0.915, 0.825, 0.705, 0.57, 0.41, 0.235, 0.105, 0.04, 0.015],
  [0.01, 0.02, 0.06, 0.15, 0.32, 0.5, 0.64, 0.77, 0.88, 0.95, 0.98, 0.99, 0.98, 0.95, 0.88, 0.77, 0.64, 0.5, 0.32, 0.15, 0.06, 0.02, 0.01],
  [0.01, 0.02, 0.06, 0.15, 0.32, 0.5, 0.64, 0.77, 0.88, 0.95, 0.98, 0.99, 0.98, 0.95, 0.88, 0.77, 0.64, 0.5, 0.32, 0.15, 0.06, 0.02, 0.01],
  [0.015, 0.04, 0.105, 0.235, 0.41, 0.57, 0.705, 0.825, 0.915, 0.965, 0.985, 0.985, 0.965, 0.915, 0.825, 0.705, 0.57, 0.41, 0.235, 0.105, 0.04, 0.015],
  [0.01, 0.02, 0.06, 0.15, 0.32, 0.5, 0.64, 0.77, 0.88, 0.95, 0.98, 0.99, 0.98, 0.95, 0.88, 0.77, 0.64, 0.5, 0.32, 0.15, 0.06, 0.02, 0.01],
  [0.015, 0.04, 0.105, 0.235, 0.41, 0.57, 0.705, 0.825, 0.915, 0.965, 0.985, 0.985, 0.965, 0.915, 0.825, 0.705, 0.57, 0.41, 0.235, 0.105, 0.04, 0.015],
  [0.01, 0.02, 0.06, 0.15, 0.32, 0.5, 0.64, 0.77, 0.88, 0.95, 0.98, 0.99, 0.98, 0.95, 0.88, 0.77, 0.64, 0.5, 0.32, 0.15, 0.06, 0.02, 0.01],
  [0.01, 0.02, 0.06, 0.15, 0.32, 0.5, 0.64, 0.77, 0.88, 0.95, 0.98, 0.99, 0.98, 0.95, 0.88, 0.77, 0.64, 0.5, 0.32, 0.15, 0.06, 0.02, 0.01],
  [0.015, 0.04, 0.105, 0.235, 0.41, 0.57, 0.705, 0.825, 0.915, 0.965, 0.985, 0.985, 0.94, 0.82, 0.61, 0.39, 0.2, 0.08, 0.02],
  [0.01, 0.02, 0.06, 0.15, 0.32, 0.5, 0.64, 0.77, 0.88, 0.95, 0.98, 0.99, 0.97, 0.9, 0.72, 0.5, 0.28, 0.12, 0.04, 0.01],
  [0.01, 0.02, 0.06, 0.15, 0.32, 0.5, 0.64, 0.77, 0.88, 0.95, 0.98, 0.99, 0.88, 0.5, 0.17, 0.04],
];

// ---------------------------------------------------------------------------
// helpers
// ---------------------------------------------------------------------------
function lobesToFull(starts: number[], lobes: number[][], step: number): number[][] {
  const n = 360 / step;
  return lobes.map((vals, k) => {
    const full = new Array(n).fill(0);
    vals.forEach((v, j) => {
      const phi = (((starts[k] + j * step) % 360) + 360) % 360;
      full[Math.round(phi / step) % n] = v;
    });
    return full;
  });
}

const SANS = '"Liberation Sans", Arial, Helvetica, sans-serif';

type LegendBox = { x: number; y: number; w: number; h: number; row0: number; rowStep: number; l0: number; l1: number; tx: number };

type PanelCfg = {
  left: number; top: number; width: number; height: number;
  pad: { left: number; top: number; right: number; bottom: number };
  step: number; min: number; max: number; tickStep: number;
  rTicks: number[];
  angleText: (phi: number) => string;
  names: string[]; colors: string[]; series: number[][];
  legend: LegendBox;
};

const PANELS: PanelCfg[] = [
  {
    left: 0, top: 0, width: 445, height: 490,
    pad: { left: 41, top: 50, right: 14, bottom: 50 },
    step: A_STEP, min: -50, max: 0, tickStep: 10, rTicks: DB_TICKS,
    angleText: (p) => String(p),
    names: A_NAMES, colors: A_COLORS, series: A_SERIES,
    legend: { x: 44.5, y: 125.5, w: 104, h: 239, row0: 135.5, rowStep: 18.2, l0: 47, l1: 100, tx: 102 },
  },
  {
    left: 444, top: 0, width: 445, height: 490,
    pad: { left: 38, top: 50, right: 17, bottom: 50 },
    step: B_STEP, min: 0, max: 1, tickStep: 0.2, rTicks: LIN_TICKS,
    angleText: (p) => String(p),
    names: B_NAMES, colors: B_COLORS, series: lobesToFull(B_START, B_LOBES, B_STEP),
    legend: { x: 87.5, y: 98.5, w: 104, h: 292, row0: 111.7, rowStep: 22.1, l0: 91, l1: 143, tx: 147 },
  },
  {
    left: 0, top: 490, width: 445, height: 501,
    pad: { left: 30, top: 37, right: 17, bottom: 66 },
    step: C_STEP, min: -50, max: 0, tickStep: 10, rTicks: DB_TICKS,
    angleText: (p) => (p === 180 ? "0" : String(p)),
    names: C_NAMES, colors: C_COLORS, series: C_SERIES,
    legend: { x: 27.5, y: 113.5, w: 108, h: 245, row0: 126.7, rowStep: 18.45, l0: 33, l1: 85, tx: 89 },
  },
  {
    left: 444, top: 490, width: 445, height: 501,
    pad: { left: 34, top: 37, right: 13, bottom: 66 },
    step: D_STEP, min: 0, max: 1, tickStep: 0.2, rTicks: LIN_TICKS,
    angleText: (p) => String(p),
    names: D_NAMES, colors: D_COLORS, series: lobesToFull(D_START, D_LOBES, D_STEP),
    legend: { x: 83.5, y: 85.5, w: 107, h: 302, row0: 101.7, rowStep: 22.64, l0: 88, l1: 140, tx: 146 },
  },
];

function PolarPanel({ cfg }: { cfg: PanelCfg }) {
  const ref = useRef<HTMLCanvasElement | null>(null);

  useEffect(() => {
    if (!ref.current) return;
    const n = Math.round(360 / cfg.step);
    const phiOf = (i: number) => (((360 - i * cfg.step) % 360) + 360) % 360;
    const labels = Array.from({ length: n }, (_, i) => String(phiOf(i)));
    const datasets = cfg.series.map((vals, k) => ({
      label: cfg.names[k],
      data: Array.from({ length: n }, (_, i) => vals[(n - i) % n]),
      borderColor: cfg.colors[k],
      backgroundColor: cfg.colors[k],
      borderWidth: 1,
      pointRadius: 0,
      pointHoverRadius: 0,
      fill: false,
      tension: 0,
      borderJoinStyle: "round",
    }));

    const decor = {
      id: "polarDecor",
      beforeDatasetsDraw(chart: any) {
        const ctx = chart.ctx;
        const s = chart.scales.r;
        const cx = s.xCenter, cy = s.yCenter, R = s.drawingArea;
        ctx.save();
        ctx.font = `13px ${SANS}`;
        ctx.fillStyle = "#3c3c3c";
        ctx.textAlign = "center";
        ctx.textBaseline = "middle";
        ANGLE_TICKS.forEach((phi) => {
          const t = cfg.angleText(phi);
          const a = (phi * Math.PI) / 180;
          const d = R + (phi === 0 ? 8 : 12);
          ctx.fillText(t, cx + d * Math.cos(a), cy - d * Math.sin(a));
        });
        const ra = (80 * Math.PI) / 180;
        cfg.rTicks.forEach((v) => {
          const d = s.getDistanceFromCenterForValue(v);
          ctx.fillText(String(v), cx + d * Math.cos(ra) + 2, cy - d * Math.sin(ra));
        });
        ctx.restore();
      },
      afterDraw(chart: any) {
        const ctx = chart.ctx;
        const L = cfg.legend;
        ctx.save();
        ctx.fillStyle = "#ffffff";
        ctx.fillRect(L.x, L.y, L.w, L.h);
        ctx.strokeStyle = "#4a4a4a";
        ctx.lineWidth = 1;
        ctx.strokeRect(L.x, L.y, L.w, L.h);
        ctx.font = `13px ${SANS}`;
        ctx.textAlign = "left";
        ctx.textBaseline = "middle";
        chart.data.datasets.forEach((ds: any, k: number) => {
          const y = Math.round(L.row0 + k * L.rowStep);
          ctx.strokeStyle = ds.borderColor;
          ctx.lineWidth = 1.5;
          ctx.beginPath();
          ctx.moveTo(L.l0, y);
          ctx.lineTo(L.l1, y);
          ctx.stroke();
          ctx.fillStyle = "#333333";
          ctx.fillText(ds.label, L.tx, y + 1);
        });
        ctx.restore();
      },
    };

    const chart = new Chart(ref.current, {
      type: "radar",
      data: { labels, datasets } as any,
      options: {
        animation: false,
        responsive: false,
        maintainAspectRatio: false,
        events: [],
        layout: { padding: cfg.pad },
        plugins: { legend: { display: false }, tooltip: { enabled: false }, title: { display: false } },
        elements: { point: { radius: 0 }, line: { tension: 0, borderWidth: 1, fill: false } },
        scales: {
          r: {
            min: cfg.min,
            max: cfg.max,
            startAngle: 90,
            ticks: { display: false, stepSize: cfg.tickStep },
            pointLabels: { display: false },
            grid: {
              circular: true,
              lineWidth: 1,
              color: (c: any) =>
                c.tick && Math.abs(c.tick.value - cfg.max) < 1e-6 ? "#cfcfcf" : "#f6f6f6",
            },
            angleLines: {
              display: true,
              lineWidth: 1,
              color: (c: any) => {
                const phi = phiOf(c.index);
                if (phi % 30 !== 0) return "rgba(0,0,0,0)";
                return phi === 90 || phi === 270 ? "#dcdcdc" : "#f4f4f4";
              },
            },
          },
        },
      } as any,
      plugins: [decor],
    });
    return () => chart.destroy();
  }, [cfg]);

  return (
    <canvas
      ref={ref}
      width={cfg.width}
      height={cfg.height}
      style={{ position: "absolute", left: cfg.left, top: cfg.top, width: cfg.width, height: cfg.height }}
    />
  );
}

const serif = '"Liberation Serif", "Times New Roman", Times, serif';

export default function App() {
  const caption = (text: string, cx: number, top: number) => (
    <div
      style={{
        position: "absolute", left: cx - 40, top, width: 80, textAlign: "center",
        fontFamily: serif, fontSize: 24, lineHeight: "26px", color: "#111",
      }}
    >
      {text}
    </div>
  );
  return (
    <div style={{ position: "absolute", left: 0, top: 0, width: 889, height: 991, background: "#fff", overflow: "hidden" }}>
      {PANELS.map((p, i) => (
        <PolarPanel key={i} cfg={p} />
      ))}
      <div style={{ position: "absolute", left: 0, top: 0, width: 546, height: 24, overflow: "hidden" }}>
        <div style={{ position: "absolute", left: 0, top: 7, width: 546, textAlign: "center", fontFamily: serif, fontWeight: "bold", fontSize: 19, lineHeight: "19px", color: "#111" }}>
          Standard Gain Horn
        </div>
      </div>
      <div style={{ position: "absolute", left: 436, top: 0, width: 354, height: 24, overflow: "hidden" }}>
        <div style={{ position: "absolute", left: 0, top: 7, width: 354, textAlign: "center", fontFamily: serif, fontWeight: "bold", fontSize: 19, lineHeight: "19px", color: "#111" }}>
          Phased-Array Antenna
        </div>
      </div>
      {caption("(a)", 238, 449)}
      {caption("(b)", 677, 449)}
      {caption("(c)", 243, 955)}
      {caption("(d)", 681, 955)}
      <div style={{ position: "absolute", left: 0, top: 969, fontFamily: serif, fontSize: 48, lineHeight: "48px", color: "#111" }}>H</div>
    </div>
  );
}
